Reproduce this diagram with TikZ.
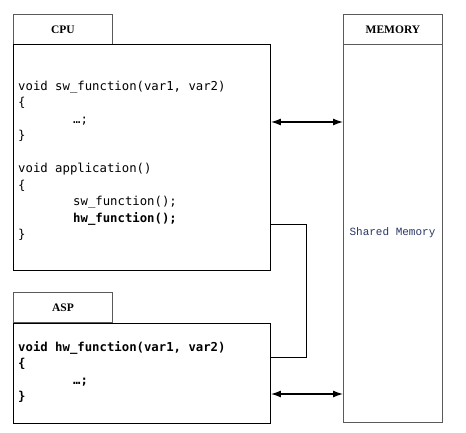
\documentclass[tikz,border=0pt]{standalone}
\usepackage{fontspec}
\setmonofont{DejaVu Sans Mono}
\newfontfamily\labelfont{Liberation Serif}
\newfontfamily\memfont{Liberation Mono}
\usetikzlibrary{arrows.meta}
\definecolor{memblue}{RGB}{40,55,100}
\definecolor{tabgray}{RGB}{90,90,90}

\begin{document}
\begin{tikzpicture}[x=1pt,y=-1pt,>={Latex[length=10pt,width=7pt]},
    box/.style={draw,line width=0.9pt,anchor=north west,inner sep=0pt},
    tabbox/.style={draw=tabgray,line width=0.9pt,anchor=north west,inner sep=0pt,minimum width=99pt,minimum height=30pt,font=\labelfont\bfseries\fontsize{11.5}{13}\selectfont},
    code/.style={anchor=north west,inner sep=0pt,align=left,font=\ttfamily\fontsize{12.3}{16.45}\selectfont},
    link/.style={<->,line width=1.3pt}]
            \useasboundingbox (0,0) rectangle (466,433);

            % draw the CPU block
            \node[tabbox] (cputab) at (13,14) {CPU};
            \node[box,minimum width=257pt,minimum height=226pt] (cpu) at (13,44) {};
            \node[code] (cpucode) at (18,81) {void sw\_function(var1, var2)\\
                \{\\
                \hspace*{55pt}\dots;\\
                \}\\
                \mbox{}\\
                void application()\\
                \{\\
                \hspace*{55pt}sw\_function();\\
                \hspace*{55pt}\textbf{hw\_function();}\\
                \}};

            % draw the ASP block
            \node[tabbox] (asptab) at (13,292) {ASP};
            \node[box,minimum width=257pt,minimum height=100pt] (asp) at (13,323) {};
            \node[code,font=\ttfamily\bfseries\fontsize{12.3}{16.45}\selectfont] (aspcode) at (18,341) {void hw\_function(var1, var2)\\
                \{\\
                \hspace*{55pt}\dots;\\
                \}};

            % draw the shared memory
            \node[tabbox] (memtab) at (343,14) {MEMORY};
            \node[box,draw=tabgray,minimum width=99pt,minimum height=378pt] (mem) at (343,44) {};
            \node[font=\memfont\fontsize{11}{13}\selectfont,text=memblue] (memtext) at (392.5,233) {Shared Memory};

            % arrows to the memory
            \coordinate (toplink) at (0,122);
            \coordinate (botlink) at (0,394);
            \draw[link] (cpu.east |- toplink) -- (mem.west |- toplink);
            \draw[link] (asp.east |- botlink) -- (mem.west |- botlink);

            % call from CPU to ASP
            \coordinate (calltop) at (306,224);
            \coordinate (callbot) at (306,357);
            \draw[line width=0.9pt] (cpu.east |- calltop) -- (calltop) -- (callbot) -- (asp.east |- callbot);
        \end{tikzpicture}
\end{document}
